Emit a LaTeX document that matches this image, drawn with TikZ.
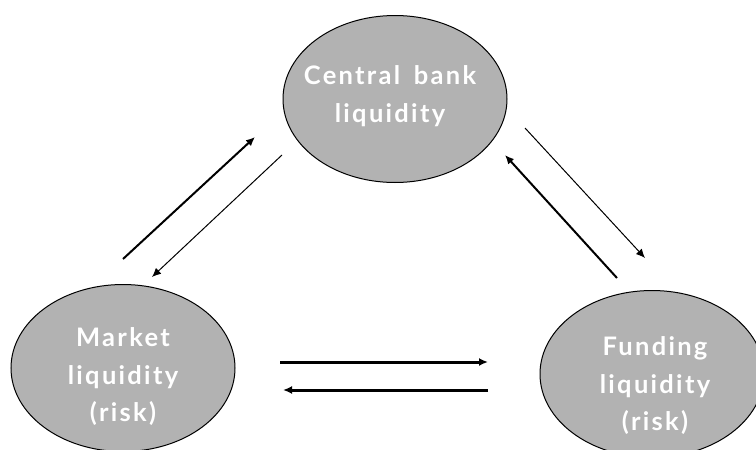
\documentclass[tikz,border=0pt]{standalone}
\usepackage{fontspec}
\setmainfont{Lato}
\newfontfamily\liqfont[LetterSpace=9,WordSpace=1.6]{Lato}
\usetikzlibrary{arrows.meta,shapes.geometric}

\tikzset{
  liq/.style={ellipse,draw=black,line width=1pt,fill=black!30,
    minimum width=224pt,minimum height=167pt,inner sep=0pt},
  liqtext/.style={text=white,align=center,inner sep=0pt,
    font=\liqfont\fontsize{25.5}{37.5}\selectfont\bfseries},
  flow/.style={-{Latex[length=9pt,width=8pt]},line width=#1},
  flow/.default=2pt
}

\begin{document}
\begin{tikzpicture}[x=1pt,y=-1pt]
\useasboundingbox (0,0) rectangle (756,450);
\node [liq] (cb) at (395,99) {};
\node [liq] (ml) at (123,368) {};
\node [liq] (fl) at (652,374) {};
\node [liqtext] (cbtext) at ([xshift=-5pt,yshift=3pt]cb) {Central bank\\liquidity};
\node [liqtext] (mltext) at ([yshift=-9pt]ml) {Market\\liquidity\\(risk)};
\node [liqtext] (fltext) at ([xshift=3pt,yshift=-12pt]fl) {Funding\\liquidity\\(risk)};
% arrow end points between the three nodes
\coordinate (mlout) at (123,259);  \coordinate (cbin) at (255,137);
\coordinate (cbout) at (282,155);  \coordinate (mlin) at (152,277);
\coordinate (cbout2) at (525,128); \coordinate (flin) at (645,258);
\coordinate (flout) at (617,278);  \coordinate (cbin2) at (505,155);
\coordinate (mlout2) at (280,362); \coordinate (flin2) at (488,362);
\coordinate (flout2) at (488,390); \coordinate (mlin2) at (283,390);
\draw [flow] (mlout) -- (cbin);
\draw [flow=1pt] (cbout) -- (mlin);
\draw [flow=1pt] (cbout2) -- (flin);
\draw [flow] (flout) -- (cbin2);
\draw [flow=3pt] (mlout2) -- (flin2);
\draw [flow=3pt] (flout2) -- (mlin2);
\end{tikzpicture}
\end{document}
